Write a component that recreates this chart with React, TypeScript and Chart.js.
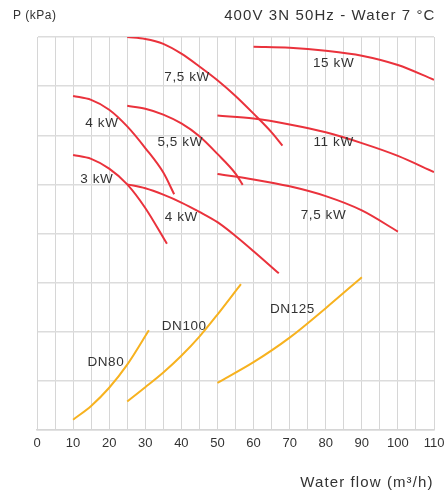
import React, { useEffect, useRef } from "react";
import { Chart, registerables } from "chart.js";

Chart.register(...registerables);

const xTicksMax = 110;

const kw15: [number, number][] = [[60, 7.8], [70, 7.78], [80, 7.72], [90, 7.62], [100, 7.43], [110, 7.13]];
const kw75a: [number, number][] = [[25, 8.0], [30, 7.96], [35, 7.86], [40, 7.66], [45, 7.4], [50, 7.12], [55, 6.8], [60, 6.44], [65, 6.06], [68, 5.79]];
const kw4a: [number, number][] = [[10, 6.8], [15, 6.72], [20, 6.52], [25, 6.18], [30, 5.74], [35, 5.24], [38, 4.8]];
const kw55: [number, number][] = [[25, 6.6], [30, 6.54], [35, 6.42], [40, 6.24], [45, 5.98], [50, 5.62], [55, 5.22], [57, 4.99]];
const kw11: [number, number][] = [[50, 6.4], [60, 6.34], [70, 6.22], [80, 6.06], [90, 5.84], [100, 5.58], [110, 5.25]];
const kw3: [number, number][] = [[10, 5.6], [15, 5.52], [20, 5.32], [25, 5.0], [30, 4.52], [36, 3.79]];
const kw4b: [number, number][] = [[25, 5.0], [30, 4.92], [35, 4.79], [40, 4.63], [45, 4.44], [50, 4.23], [55, 3.95], [60, 3.64], [67, 3.19]];
const kw75b: [number, number][] = [[50, 5.21], [60, 5.1], [70, 4.96], [80, 4.76], [90, 4.47], [100, 4.04]];
const dn80: [number, number][] = [[10, 0.21], [15, 0.49], [20, 0.86], [25, 1.33], [31, 2.03]];
const dn100: [number, number][] = [[25, 0.58], [30, 0.87], [35, 1.17], [40, 1.51], [45, 1.9], [50, 2.35], [56.5, 2.97]];
const dn125: [number, number][] = [[50, 0.96], [60, 1.38], [70, 1.88], [80, 2.48], [90, 3.11]];

const pumpCurves = [kw15, kw75a, kw4a, kw55, kw11, kw3, kw4b, kw75b];
const pipeCurves = [dn80, dn100, dn125];

const labelTexts = ["7,5 kW", "15 kW", "4 kW", "5,5 kW", "11 kW", "3 kW", "4 kW", "7,5 kW", "DN125", "DN100", "DN80"];
const labelX = [41.5, 82.1, 17.9, 39.6, 82.1, 16.5, 39.9, 79.3, 70.7, 40.7, 19];
const labelY = [7.17, 7.46, 6.25, 5.85, 5.85, 5.11, 4.34, 4.38, 2.46, 2.11, 1.38];

const FONT = "'Liberation Sans', Arial, sans-serif";
const RED = "#ea323c";
const ORANGE = "#f7b21f";

export default function App() {
  const ref = useRef<HTMLCanvasElement | null>(null);
  useEffect(() => {
    if (!ref.current) return;
    const toPts = (a: [number, number][]) => a.map(([x, y]) => ({ x, y }));
    const datasets: any[] = [];
    pumpCurves.forEach((c) =>
      datasets.push({ data: toPts(c), borderColor: RED, borderWidth: 2, pointRadius: 0, tension: 0.4, cubicInterpolationMode: "monotone", fill: false })
    );
    pipeCurves.forEach((c) =>
      datasets.push({ data: toPts(c), borderColor: ORANGE, borderWidth: 2, pointRadius: 0, tension: 0.4, cubicInterpolationMode: "monotone", fill: false })
    );
    const textPlugin = {
      id: "texts",
      afterDatasetsDraw(chart: any) {
        const ctx = chart.ctx;
        const xs = chart.scales.x;
        const ys = chart.scales.y;
        ctx.save();
        ctx.fillStyle = "#333";
        ctx.font = `13.5px ${FONT}`;
        ctx.letterSpacing = "0.6px";
        ctx.textAlign = "center";
        ctx.textBaseline = "middle";
        labelTexts.forEach((t, i) => {
          ctx.fillText(t, xs.getPixelForValue(labelX[i]) + 0.3, ys.getPixelForValue(labelY[i]));
        });
        ctx.font = `15px ${FONT}`;
        ctx.letterSpacing = "1.1px";
        ctx.textAlign = "right";
        ctx.fillText("400V 3N 50Hz - Water 7 °C", 435.5, 16);
        ctx.fillText("Water flow (m³/h)", 433.5, 483);
        ctx.font = `12px ${FONT}`;
        ctx.letterSpacing = "0.5px";
        ctx.textAlign = "left";
        ctx.fillText("P (kPa)", 13, 16);
        ctx.restore();
      },
    };
    const chart = new Chart(ref.current, {
      type: "line",
      data: { datasets },
      options: {
        animation: false,
        responsive: false,
        maintainAspectRatio: false,
        layout: { padding: { left: 37, right: 0, top: 37, bottom: 0 } },
        plugins: { legend: { display: false }, tooltip: { enabled: false } },
        scales: {
          x: {
            type: "linear",
            min: 0,
            max: xTicksMax,
            afterFit: (s: any) => { s.height = 64; s.paddingRight = 13; s.paddingLeft = 0; },
            grid: { color: "#d6d6d6", lineWidth: 1, drawTicks: false },
            border: { color: "#d6d6d6", width: 1.5 },
            ticks: {
              stepSize: 5,
              padding: 6,
              color: "#333",
              font: { size: 13, family: FONT },
              autoSkip: false,
              maxRotation: 0,
              callback: (v: any) => (Number(v) % 10 === 0 ? String(v) : ""),
            },
          },
          y: {
            type: "linear",
            min: 0,
            max: 8,
            afterFit: (s: any) => { s.width = 0; },
            grid: { color: "#dcdcdc", lineWidth: 1.5, drawTicks: false },
            border: { color: "#d6d6d6", width: 1 },
            ticks: { display: false, stepSize: 1 },
          },
        },
      },
      plugins: [textPlugin],
    });
    return () => chart.destroy();
  }, []);
  return (
    <div style={{ position: "absolute", left: 0, top: 0, width: 447, height: 494, background: "#fff" }}>
      <canvas ref={ref} width={447} height={494} style={{ width: 447, height: 494 }} />
    </div>
  );
}
